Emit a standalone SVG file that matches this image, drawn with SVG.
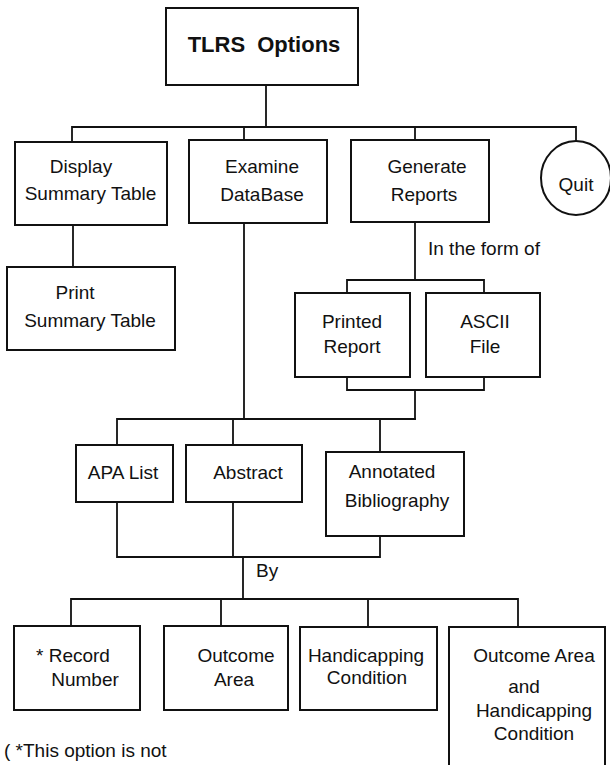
<svg xmlns="http://www.w3.org/2000/svg" width="610" height="765" viewBox="0 0 610 765">
<style>
  .box{fill:#fff;stroke:#111;stroke-width:2}
  .ln{fill:none;stroke:#111;stroke-width:1.8;stroke-linecap:square}
  text{font-family:"Liberation Sans",Arial,sans-serif;font-size:19px;fill:#111;text-anchor:middle}
  .title{font-weight:bold;font-size:22px;word-spacing:6px}
  .st{text-anchor:start}
</style>
<rect width="610" height="765" fill="#fff"/>
<g id="connectors">
  <path class="ln" d="M266 85V127M72 127H576M72 127V142M244 127V140M415 127V140M576 127V140"/>
  <path class="ln" d="M73 225V267"/>
  <path class="ln" d="M415 222V280M347 280H484M347 280V293M484 280V293"/>
  <path class="ln" d="M347 377V390M484 377V390M347 390H484M415 390V419"/>
  <path class="ln" d="M244 223V419M117 419H415M117 419V445M233 419V445M380 419V452"/>
  <path class="ln" d="M117 502V557M233 502V557M380 536V557M117 557H380M243 557V599"/>
  <path class="ln" d="M71 599H518M71 599V626M221 599V626M368 599V627M518 599V627"/>
</g>
<g id="tlrs"><rect class="box" x="166" y="8" width="192" height="77"/><text class="title" x="264" y="52">TLRS Options</text></g>
<g id="display"><rect class="box" x="15" y="142" width="152" height="83"/><text x="81" y="173">Display</text><text x="90.5" y="200">Summary Table</text></g>
<g id="examine"><rect class="box" x="189" y="140" width="138" height="83"/><text x="262" y="173">Examine</text><text x="262" y="201">DataBase</text></g>
<g id="generate"><rect class="box" x="351" y="140" width="138" height="82"/><text x="427" y="173">Generate</text><text x="424" y="201">Reports</text></g>
<g id="quit"><ellipse class="box" cx="576" cy="178" rx="35" ry="37"/><text x="576" y="191">Quit</text></g>
<g id="print"><rect class="box" x="7" y="267" width="168" height="83"/><text x="75" y="299">Print</text><text x="90" y="327">Summary Table</text></g>
<g id="formlabel"><text class="st" x="428" y="255">In the form of</text></g>
<g id="printed"><rect class="box" x="295" y="293" width="115" height="84"/><text x="352" y="328">Printed</text><text x="352" y="353">Report</text></g>
<g id="ascii"><rect class="box" x="426" y="293" width="114" height="84"/><text x="485" y="328">ASCII</text><text x="485" y="353">File</text></g>
<g id="apa"><rect class="box" x="76" y="445" width="97" height="57"/><text x="123" y="479">APA List</text></g>
<g id="abstract"><rect class="box" x="186" y="445" width="116" height="57"/><text x="248" y="479">Abstract</text></g>
<g id="annotated"><rect class="box" x="326" y="452" width="138" height="84"/><text x="392" y="478">Annotated</text><text x="397" y="507">Bibliography</text></g>
<g id="bylabel"><text class="st" x="256" y="577">By</text></g>
<g id="record"><rect class="box" x="14" y="626" width="126" height="84"/><text class="st" x="36" y="662">* Record</text><text x="85" y="686">Number</text></g>
<g id="outcome"><rect class="box" x="164" y="626" width="124" height="84"/><text x="236" y="662">Outcome</text><text x="234" y="686">Area</text></g>
<g id="handicapping"><rect class="box" x="300" y="627" width="137" height="83"/><text x="366" y="662">Handicapping</text><text x="367" y="684">Condition</text></g>
<g id="both"><rect class="box" x="449" y="627" width="156" height="140"/><text x="534" y="662">Outcome Area</text><text x="524" y="693">and</text><text x="534" y="717">Handicapping</text><text x="534" y="740">Condition</text></g>
<g id="footnote"><text class="st" x="4" y="757">( *This option is not</text></g>
</svg>
